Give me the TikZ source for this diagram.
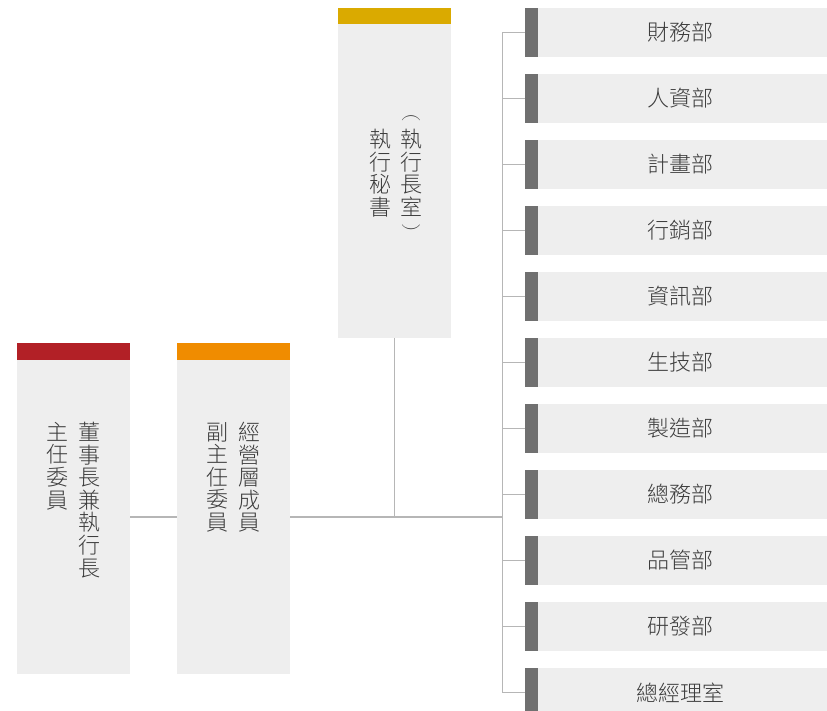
\documentclass[tikz,border=0pt]{standalone}
\usepackage{fontspec}
\IfFontExistsTF{Noto Sans CJK TC Light}
    {\newfontfamily\cjk{Noto Sans CJK TC Light}}
    {\newfontfamily\cjk{Noto Sans CJK TC}}
\usetikzlibrary{positioning}
\definecolor{chairred}{RGB}{178,32,38}
\definecolor{viceorange}{RGB}{240,140,0}
\definecolor{secgold}{RGB}{218,170,0}
\definecolor{boxgray}{RGB}{238,238,238}
\definecolor{bargray}{RGB}{112,112,112}
\definecolor{linegray}{RGB}{182,182,182}
\definecolor{textgray}{RGB}{60,60,60}

\begin{document}
\begin{tikzpicture}[x=1pt, y=-1pt,
    topbar/.style={rectangle, minimum width=113pt, minimum height=16.5pt, inner sep=0pt, outer sep=0pt},
    body/.style={rectangle, fill=boxgray, minimum width=113pt, minimum height=314pt, inner sep=0pt, outer sep=0pt},
    vcol/.style={align=center, inner sep=0pt, anchor=north, text=textgray, font=\cjk\fontsize{22}{22.6}\selectfont},
    vparen/.style={inner sep=0pt, text=textgray, font=\fontsize{22}{22.6}\selectfont},
    deptbar/.style={rectangle, fill=bargray, minimum width=13pt, minimum height=49pt, inner sep=0pt, outer sep=0pt},
    deptbody/.style={rectangle, fill=boxgray, minimum width=289pt, minimum height=49pt, inner sep=0pt, outer sep=0pt,
        text=textgray, font=\cjk\fontsize{22}{24}\selectfont},
    link/.style={draw=linegray, line width=1.5pt}]
    \useasboundingbox (0,0) rectangle (827,711);
    \clip (0,0) rectangle (827,711);

    % left: chairman, management, secretary
    \node(chairbar)[topbar, fill=chairred] at (73.5,351.5) {};
    \node(chair)[body, below=0pt of chairbar] {};
    \node(vicebar)[topbar, fill=viceorange] at (233.5,351.5) {};
    \node(vice)[body, below=0pt of vicebar] {};
    \node(secbar)[topbar, fill=secgold] at (394.5,16) {};
    \node(sec)[body, below=0pt of secbar] {};

    \node(chairtitle)[vcol] at (89,422) {董\\事\\長\\兼\\執\\行\\長};
    \node(chairrole)[vcol] at (57,422) {主\\任\\委\\員};
    \node(vicetitle)[vcol] at (249,422) {經\\營\\層\\成\\員};
    \node(vicerole)[vcol] at (217,422) {副\\主\\任\\委\\員};
    \node(secoffice)[vcol] at (411,129) {執\\行\\長\\室};
    \node(secopen)[vparen] at (411,119.5) {$\frown$};
    \node(secclose)[vparen] at (411,229) {$\smile$};
    \node(secrole)[vcol] at (380,129) {執\\行\\秘\\書};

    % departments
    \coordinate(trunk) at (502.5,517);
    \foreach \name [count=\i from 0] in {財務部,人資部,計畫部,行銷部,資訊部,生技部,製造部,總務部,品管部,研發部,總經理室} {
        \node(bar\i)[deptbar] at (531.5,32.5+66*\i) {};
        \node(dept\i)[deptbody, right=0pt of bar\i] {\hspace*{-5pt}\name};
        \draw[link] (bar\i.west) -- (bar\i.west -| trunk);
    }

    \draw[link] (bar0.west -| trunk) -- (bar10.west -| trunk);
    \draw[link] (chair) -- (vice);
    \draw[link] (vice) -- (vice -| trunk);
    \draw[link] (sec) -- (sec |- vice);
\end{tikzpicture}
\end{document}
